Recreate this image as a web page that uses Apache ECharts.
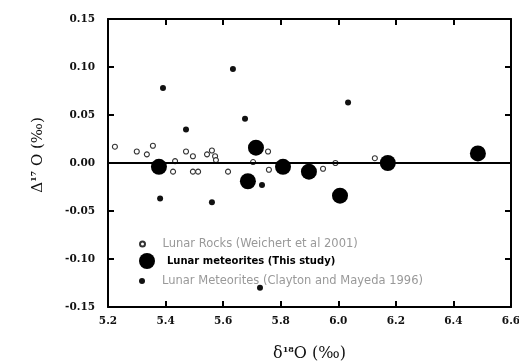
<!DOCTYPE html>
<html>
<head>
<meta charset="utf-8">
<script src="https://cdn.jsdelivr.net/npm/echarts@6/dist/echarts.min.js"></script>
<style>html,body{margin:0;padding:0;background:#fff}#c{width:519px;height:361px}</style>
</head>
<body>
<div id="c"></div>
<script>
// Lunar Rocks (Weichert et al 2001): [delta18O, Delta17O]
var lunarRocks = [
  [5.224,0.017],[5.300,0.012],[5.356,0.018],[5.335,0.009],[5.471,0.012],[5.495,0.007],
  [5.433,0.002],[5.426,-0.009],[5.495,-0.009],[5.513,-0.009],[5.561,0.013],[5.544,0.009],
  [5.572,0.007],[5.575,0.003],[5.617,-0.009],[5.704,0.001],[5.756,0.012],[5.759,-0.007],
  [5.947,-0.006],[5.990,0.000],[6.127,0.005]
];
// Lunar meteorites (This study)
var thisStudy = [
  [5.377,-0.004],[5.714,0.016],[5.686,-0.019],[5.808,-0.004],[5.898,-0.009],
  [6.006,-0.034],[6.172,0.000],[6.485,0.010]
];
// Lunar Meteorites (Clayton and Mayeda 1996)
var claytonMayeda = [
  [5.391,0.078],[5.634,0.098],[5.471,0.035],[5.676,0.046],[6.034,0.063],
  [5.381,-0.037],[5.561,-0.041],[5.735,-0.023],[5.728,-0.130]
];
var seriesNames = [
  'Lunar Rocks (Weichert et al 2001)',
  'Lunar meteorites (This study)',
  'Lunar Meteorites (Clayton and Mayeda 1996)'
];
var xTicks = {min:5.2, max:6.6, step:0.2};
var yTicks = {min:-0.15, max:0.15, step:0.05};

var chart = echarts.init(document.getElementById('c'), null, {renderer:'canvas'});
var serif = 'DejaVu Serif';
var lbl = {color:'#111', fontFamily:serif, fontWeight:'bold', fontSize:10.5};
var lineS = {color:'#000', width:2};
var legendText = {fontFamily:'DejaVu Sans', fontSize:11.5, color:'#999'};
chart.setOption({
  animation:false,
  backgroundColor:'#fff',
  grid:{left:108, right:8, top:19, bottom:54, show:false, containLabel:false, outerBoundsMode:'none'},
  legend:[
    {data:[{name:seriesNames[0]}], left:139, top:238, orient:'vertical', itemWidth:30, itemHeight:5, padding:0, textStyle:legendText, selectedMode:false},
    {data:[{name:seriesNames[1]}], left:139, top:253, orient:'vertical', itemWidth:30, itemHeight:16, padding:0, textStyle:{fontFamily:'DejaVu Sans', fontSize:10, fontWeight:'bold', color:'#000'}, selectedMode:false},
    {data:[{name:seriesNames[2]}], left:139, top:275, orient:'vertical', itemWidth:30, itemHeight:6, padding:0, textStyle:legendText, selectedMode:false}
  ],
  xAxis:[
    {type:'value', min:xTicks.min, max:xTicks.max, interval:xTicks.step, position:'bottom',
     axisLine:{show:true, onZero:false, lineStyle:lineS},
     axisTick:{show:true, inside:true, length:6, lineStyle:lineS},
     axisLabel:{margin:9, formatter:function(v){return v.toFixed(1);}, ...lbl},
     splitLine:{show:false},
     name:'{n|δ}{s|18}{n|O (‰)}', nameLocation:'middle', nameGap:39,
     nameTextStyle:{rich:{n:{fontFamily:serif, fontSize:16, color:'#111'}, s:{fontFamily:serif, fontSize:8, fontWeight:'bold', color:'#111', verticalAlign:'top', padding:[0,0,8,0]}}}},
    {type:'value', min:xTicks.min, max:xTicks.max, interval:xTicks.step, position:'top',
     axisLine:{show:true, onZero:false, lineStyle:lineS},
     axisTick:{show:true, inside:true, length:6, lineStyle:lineS},
     axisLabel:{show:false}, splitLine:{show:false}}
  ],
  yAxis:[
    {type:'value', min:yTicks.min, max:yTicks.max, interval:yTicks.step, position:'left',
     axisLine:{show:true, onZero:false, lineStyle:lineS},
     axisTick:{show:true, inside:true, length:6, lineStyle:lineS},
     axisLabel:{margin:13, formatter:function(v){return v.toFixed(2);}, ...lbl},
     splitLine:{show:false},
     name:'{n|Δ}{s|17}{n| O (‰)}', nameLocation:'middle', nameGap:62, nameRotate:90,
     nameTextStyle:{padding:[0,0,0,16], rich:{n:{fontFamily:serif, fontSize:15, color:'#111'}, s:{fontFamily:serif, fontSize:8, fontWeight:'bold', color:'#111', verticalAlign:'top', padding:[0,0,8,0]}}}},
    {type:'value', min:yTicks.min, max:yTicks.max, interval:yTicks.step, position:'right',
     axisLine:{show:true, onZero:false, lineStyle:lineS},
     axisTick:{show:true, inside:true, length:6, lineStyle:lineS},
     axisLabel:{show:false}, splitLine:{show:false}}
  ],
  series:[
    {name:seriesNames[0], type:'scatter', data:lunarRocks, symbol:'circle', symbolSize:5,
     itemStyle:{color:'#fff', borderColor:'#333', borderWidth:1.1, opacity:1}, z:3},
    {name:seriesNames[2], type:'scatter', data:claytonMayeda, symbol:'circle', symbolSize:6,
     itemStyle:{color:'#111', opacity:1}, z:3},
    {name:seriesNames[1], type:'scatter', data:thisStudy, symbol:'circle', symbolSize:16,
     itemStyle:{color:'#000', opacity:1}, z:4,
     markLine:{silent:true, symbol:'none', label:{show:false}, animation:false,
       lineStyle:{color:'#000', width:2, type:'solid', opacity:1}, data:[{yAxis:0}]}}
  ]
});
</script>
</body>
</html>
